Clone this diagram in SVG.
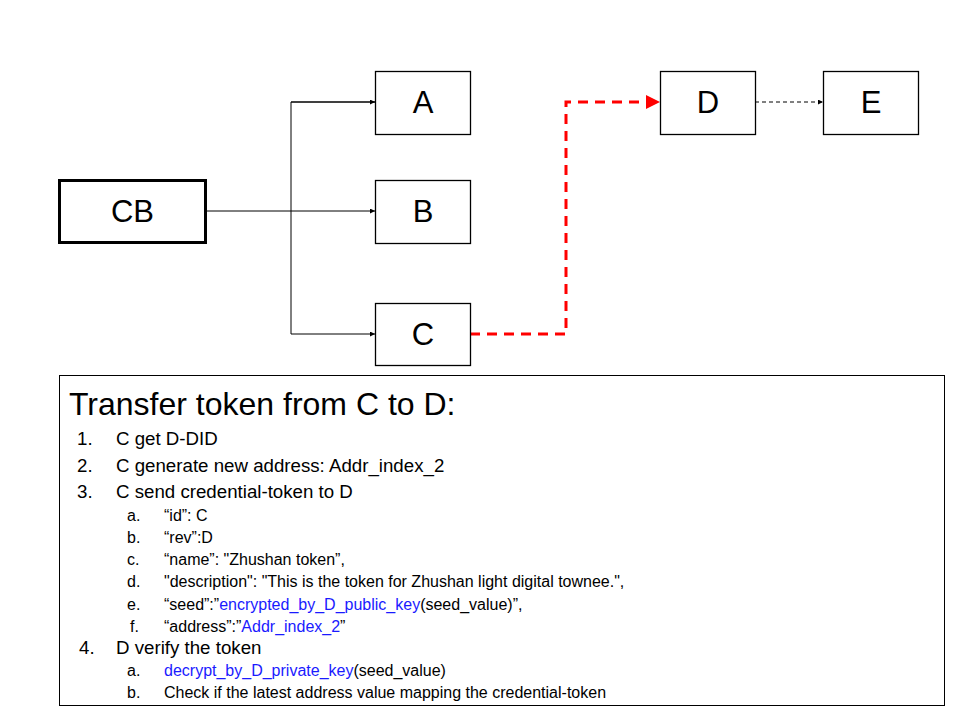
<svg xmlns="http://www.w3.org/2000/svg" width="960" height="720" viewBox="0 0 960 720">
<style>
.node{fill:#fff;stroke:#000;stroke-width:1.3}
.lbl{font-family:"Liberation Sans",Arial,sans-serif;font-size:31px;text-anchor:middle;fill:#000}
.t{font-family:"Liberation Sans",Arial,sans-serif;fill:#000}
.blue{fill:#1a1aff}
.ln{fill:none;stroke:#000;stroke-width:1}
</style>
<defs>
<marker id="ah" viewBox="0 0 10 10" refX="10" refY="5" markerWidth="8" markerHeight="5" markerUnits="userSpaceOnUse" orient="auto"><path d="M0,0L10,5L0,10z" fill="#000"/></marker>
<marker id="ahr" viewBox="0 0 10 10" refX="10" refY="5" markerWidth="19" markerHeight="14" markerUnits="userSpaceOnUse" orient="auto"><path d="M0,0L10,5L0,10z" fill="#f00"/></marker>
</defs>
<rect width="960" height="720" fill="#fff"/>
<g id="connectors">
<path class="ln" d="M206,211H375" marker-end="url(#ah)"/>
<path class="ln" d="M375,102H291V334H375" marker-end="url(#ah)"/>
<path class="ln" d="M291,102H375" marker-end="url(#ah)"/>
<path d="M470,334H566V102H660" fill="none" stroke="#f00" stroke-width="3" stroke-dasharray="10,7" marker-end="url(#ahr)"/>
<path d="M755,102H823" fill="none" stroke="#000" stroke-width="1" stroke-dasharray="4,3" marker-end="url(#ah)"/>
</g>
<g id="node-CB"><rect x="59.5" y="180.5" width="146" height="62" fill="#fff" stroke="#000" stroke-width="3"/><text class="lbl" x="132.5" y="222">CB</text></g>
<g id="node-A"><rect class="node" x="375.5" y="71.5" width="95" height="63"/><text class="lbl" x="423" y="113">A</text></g>
<g id="node-B"><rect class="node" x="375.5" y="180.5" width="95" height="63"/><text class="lbl" x="423" y="222">B</text></g>
<g id="node-C"><rect class="node" x="375.5" y="303.5" width="95" height="62"/><text class="lbl" x="423" y="345">C</text></g>
<g id="node-D"><rect class="node" x="660.5" y="71.5" width="95" height="63"/><text class="lbl" x="708" y="113">D</text></g>
<g id="node-E"><rect class="node" x="823.5" y="71.5" width="95" height="63"/><text class="lbl" x="871" y="113">E</text></g>
<g id="note">
<rect x="59.5" y="375.5" width="885" height="330" fill="#fff" stroke="#000" stroke-width="1"/>
<text class="t" x="69" y="415" font-size="32">Transfer token from C to D:</text>
<g font-size="18.7" class="t">
<text class="t" x="77" y="445">1.</text><text class="t" x="116" y="445">C get D-DID</text>
<text class="t" x="77" y="472">2.</text><text class="t" x="116" y="472">C generate new address: Addr_index_2</text>
<text class="t" x="77" y="498">3.</text><text class="t" x="116" y="498">C send credential-token to D</text>
<text class="t" x="79" y="654">4.</text><text class="t" x="116" y="654">D verify the token</text>
</g>
<g font-size="16" class="t">
<text class="t" x="127" y="521">a.</text><text class="t" x="164" y="521">“id”: C</text>
<text class="t" x="127" y="543">b.</text><text class="t" x="164" y="543">“rev”:D</text>
<text class="t" x="127" y="565">c.</text><text class="t" x="164" y="565">“name”: "Zhushan token”,</text>
<text class="t" x="127" y="587">d.</text><text class="t" x="164" y="587">"description": "This is the token for Zhushan light digital townee.",</text>
<text class="t" x="127" y="610">e.</text><text class="t" x="164" y="610">“seed”:”<tspan class="blue">encrypted_by_D_public_key</tspan>(seed_value)”,</text>
<text class="t" x="130" y="632">f.</text><text class="t" x="164" y="632">“address”:”<tspan class="blue">Addr_index_2</tspan>”</text>
<text class="t" x="127" y="676">a.</text><text class="t" x="164" y="676"><tspan class="blue">decrypt_by_D_private_key</tspan>(seed_value)</text>
<text class="t" x="127" y="698">b.</text><text class="t" x="164" y="698">Check if the latest address value mapping the credential-token</text>
</g>
</g>
</svg>
